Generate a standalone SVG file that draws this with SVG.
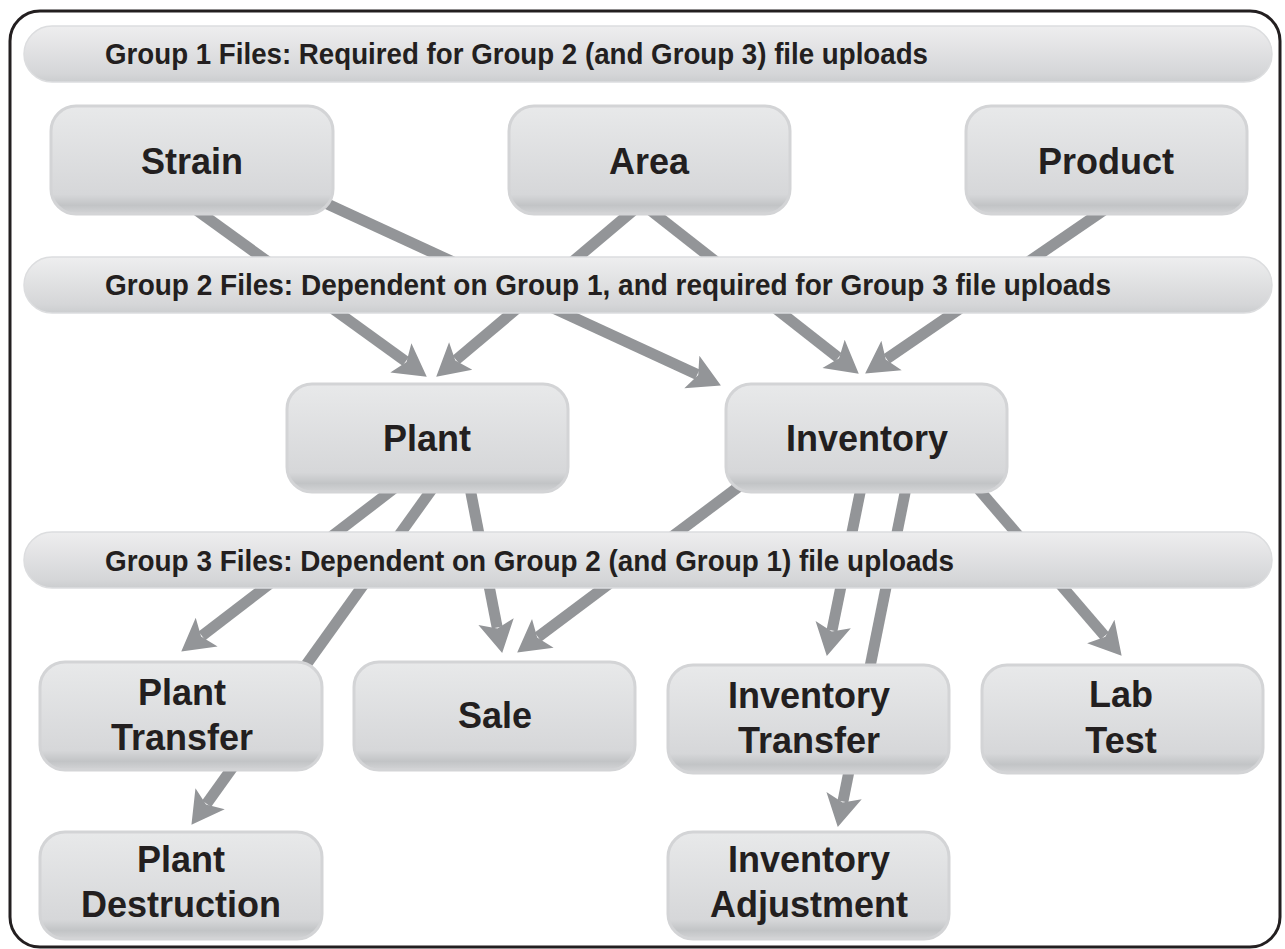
<svg xmlns="http://www.w3.org/2000/svg" width="1285" height="949" viewBox="0 0 1285 949">
  <defs>
    <linearGradient id="gNode" x1="0" y1="0" x2="0" y2="1">
      <stop offset="0" stop-color="#e8e9ea"/>
      <stop offset="0.82" stop-color="#d6d7d9"/>
      <stop offset="0.92" stop-color="#c2c4c6"/>
      <stop offset="1" stop-color="#d3d4d6"/>
    </linearGradient>
    <linearGradient id="gBand" x1="0" y1="0" x2="0" y2="1">
      <stop offset="0" stop-color="#eeeeef"/>
      <stop offset="0.85" stop-color="#d5d6d8"/>
      <stop offset="1" stop-color="#cbcdcf"/>
    </linearGradient>
    <marker id="ah" markerUnits="userSpaceOnUse" markerWidth="40" markerHeight="40" refX="6" refY="20" orient="auto" overflow="visible">
      <path d="M0,2 L32,20 L0,38 L7,20 Z" fill="#939598"/>
    </marker>
  </defs>
  <style>
    .conn line { stroke: #939598; stroke-width: 11; fill: none; marker-end: url(#ah); }
    .band rect { fill: url(#gBand); stroke: #dcdddf; stroke-width: 1.5; }
    .node rect { fill: url(#gNode); stroke: #d3d4d6; stroke-width: 3; }
    text { font-family: "Liberation Sans", Arial, sans-serif; font-weight: bold; fill: #231f20; }
    .band text { font-size: 30px; }
    .node text { font-size: 36px; text-anchor: middle; }
  </style>
  <rect width="1285" height="949" fill="#ffffff"/>
  <rect id="frame" x="10" y="11" width="1270" height="936" rx="30" ry="30" fill="none" stroke="#231f20" stroke-width="3"/>

  <g id="connectors" class="conn">
    <line x1="195" y1="209" x2="405.7" y2="361.4"/>
    <line x1="635.6" y1="208.5" x2="456.1" y2="359.9"/>
    <line x1="310" y1="196" x2="697.3" y2="374.5"/>
    <line x1="650" y1="210" x2="838.3" y2="357.6"/>
    <line x1="1105" y1="209.4" x2="886.6" y2="358.9"/>
    <line x1="396" y1="487" x2="201.9" y2="635.8"/>
    <line x1="435" y1="485" x2="206.6" y2="803.7"/>
    <line x1="469" y1="483" x2="497.2" y2="627.5"/>
    <line x1="745" y1="482" x2="538" y2="637"/>
    <line x1="862" y1="483" x2="832" y2="630.5"/>
    <line x1="907" y1="483" x2="842.9" y2="801.5"/>
    <line x1="975" y1="485" x2="1104.7" y2="636"/>
  </g>

  <g id="band1" class="band">
    <rect x="24" y="26" width="1248" height="56" rx="28" ry="28"/>
    <text x="105" y="64" textLength="823" lengthAdjust="spacingAndGlyphs">Group 1 Files: Required for Group 2 (and Group 3) file uploads</text>
  </g>
  <g id="band2" class="band">
    <rect x="24" y="257" width="1248" height="56" rx="28" ry="28"/>
    <text x="105" y="295" textLength="1006" lengthAdjust="spacingAndGlyphs">Group 2 Files: Dependent on Group 1, and required for Group 3 file uploads</text>
  </g>
  <g id="band3" class="band">
    <rect x="24" y="532" width="1248" height="56" rx="28" ry="28"/>
    <text x="105" y="571" textLength="849" lengthAdjust="spacingAndGlyphs">Group 3 Files: Dependent on Group 2 (and Group 1) file uploads</text>
  </g>

  <g id="strain" class="node">
    <rect x="51" y="106" width="282" height="108" rx="25" ry="25"/>
    <text x="192" y="174">Strain</text>
  </g>
  <g id="area" class="node">
    <rect x="509" y="106" width="281" height="108" rx="25" ry="25"/>
    <text x="649" y="174">Area</text>
  </g>
  <g id="product" class="node">
    <rect x="966" y="106" width="281" height="108" rx="25" ry="25"/>
    <text x="1106" y="174">Product</text>
  </g>
  <g id="plant" class="node">
    <rect x="287" y="384" width="281" height="108" rx="25" ry="25"/>
    <text x="427" y="451">Plant</text>
  </g>
  <g id="inventory" class="node">
    <rect x="726" y="384" width="281" height="108" rx="25" ry="25"/>
    <text x="867" y="451">Inventory</text>
  </g>
  <g id="plant-transfer" class="node">
    <rect x="40" y="662" width="282" height="108" rx="25" ry="25"/>
    <text x="182" y="705">Plant</text>
    <text x="182" y="750">Transfer</text>
  </g>
  <g id="sale" class="node">
    <rect x="354" y="662" width="281" height="108" rx="25" ry="25"/>
    <text x="495" y="728">Sale</text>
  </g>
  <g id="inventory-transfer" class="node">
    <rect x="668" y="665" width="281" height="108" rx="25" ry="25"/>
    <text x="809" y="708">Inventory</text>
    <text x="809" y="753">Transfer</text>
  </g>
  <g id="lab-test" class="node">
    <rect x="982" y="665" width="281" height="108" rx="25" ry="25"/>
    <text x="1121" y="707">Lab</text>
    <text x="1121" y="753">Test</text>
  </g>
  <g id="plant-destruction" class="node">
    <rect x="40" y="832" width="282" height="107" rx="25" ry="25"/>
    <text x="181" y="872">Plant</text>
    <text x="181" y="917">Destruction</text>
  </g>
  <g id="inventory-adjustment" class="node">
    <rect x="668" y="832" width="281" height="107" rx="25" ry="25"/>
    <text x="809" y="872">Inventory</text>
    <text x="809" y="917">Adjustment</text>
  </g>
</svg>
